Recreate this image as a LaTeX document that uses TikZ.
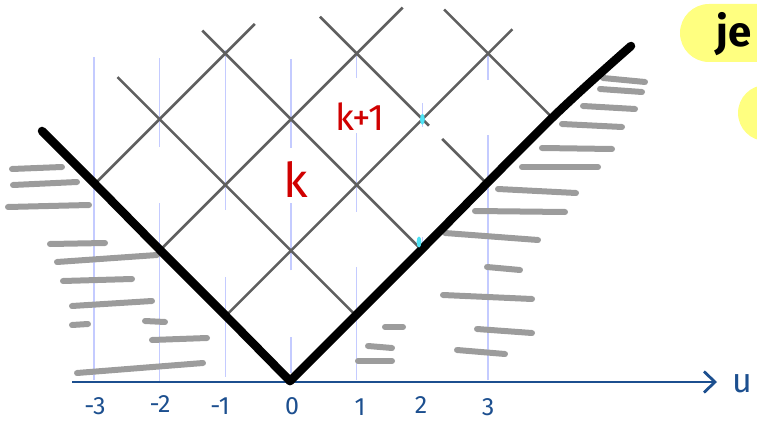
\documentclass[tikz,border=0pt]{standalone}
\usepackage{fontspec}
\setmainfont{Fira Sans}
\usetikzlibrary{arrows.meta}
\definecolor{gridgray}{HTML}{5F5F5F}
\definecolor{vblue}{HTML}{C4CBFF}
\definecolor{hatchgray}{HTML}{9C9C9C}
\definecolor{axisblue}{HTML}{1C4F8F}
\definecolor{kred}{HTML}{D00000}
\definecolor{hlyellow}{HTML}{FFFF80}
\definecolor{cyanmark}{HTML}{4FE3F5}
\begin{document}
\begin{tikzpicture}[x=1pt,y=-1pt,
  gridline/.style={draw=gridgray,line width=2.6pt},
  vline/.style={draw=vblue,line width=1.4pt},
  hatch/.style={draw=hatchgray,line width=6pt,line cap=round},
  boundary/.style={draw=black,line width=8.5pt,line cap=round,line join=round},
  axisline/.style={draw=axisblue,line width=2.8pt},
  ticklabel/.style={text=axisblue,font=\fontsize{25}{25}\selectfont,inner sep=0pt},
  celllabel/.style={text=kred,inner sep=0pt},
  blob/.style={fill=hlyellow}]
\useasboundingbox (0,0) rectangle (757,422);
% yellow highlight blobs (cut by the right edge)
\begin{scope}
  \clip (0,0) rectangle (757,422);
  \fill[blob,rounded corners=29pt] (680,4) rectangle (830,62);
  \fill[blob,rounded corners=28pt] (738,85) rectangle (830,141);
\end{scope}
\node[anchor=base west,inner sep=0pt,font=\fontsize{42}{42}\selectfont\bfseries] (je) at (716,47) {je};
% lattice in cone units
\begin{scope}[shift={(291pt,-382pt)},x=65.7pt,y=65.7pt]
  % vertical light blue lines
  \draw[vline] (-3,0.03) -- (-3,4.95);
  \draw[vline] (-2,3.58) -- (-2,4.93);
  \draw[vline] (-2,0) -- (-2,2.72);
  \draw[vline] (-1,2.62) -- (-1,5.05);
  \draw[vline] (-1,0.08) -- (-1,1.6);
  \draw[vline] (0,3.56) -- (0,4.92);
  \draw[vline] (0,1.7) -- (0,2.72);
  \draw[vline] (0,0.14) -- (0,0.68);
  \draw[vline] (1,4.63) -- (1,4.98);
  \draw[vline] (1,2.59) -- (1,3.79);
  \draw[vline] (1,0.03) -- (1,1.75);
  \draw[vline] (2,3.88) -- (2,4.25);
  \draw[vline] (2,2.0) -- (2,2.2);
  \draw[vline] (3,4.6) -- (3,4.98);
  \draw[vline] (3,0.03) -- (3,3.76);
  % grid lines y = x + c
  \draw[gridline] (-3,3) -- (-0.55,5.45);
  \draw[gridline] (-2,2) -- (1.7,5.7);
  \draw[gridline] (-1,1) -- (3.37,5.37);
  % grid lines y = -x + c
  \draw[gridline] (1,1) -- (-2.64,4.64);
  \draw[gridline] (2,2) -- (-1.35,5.35);
  \draw[gridline] (3,3) -- (2.3,3.7);
  \draw[gridline] (2.1,3.9) -- (0.44,5.56);
  \draw[gridline] (4,4) -- (2.33,5.67);
  % cyan mark
  \fill[cyanmark] (2,4.0) ellipse [x radius=2.4pt,y radius=5.5pt];
  % cell labels
  \node[celllabel,font=\fontsize{48}{48}\selectfont] (k) at (0.07,3.08) {k};
  \node[celllabel,font=\fontsize{37}{37}\selectfont] (k1) at (1.05,4.04) {k+1};
\end{scope}
% hatching, left
\draw[hatch] (12,169) -- (62,167);
\draw[hatch] (13,185) -- (77,182);
\draw[hatch] (8,207) -- (89,205);
\draw[hatch] (50,244) -- (105,243);
\draw[hatch] (57,262) -- (157,255);
\draw[hatch] (63,281) -- (132,279);
\draw[hatch] (72,306) -- (152,301);
\draw[hatch] (72,325) -- (88,324);
\draw[hatch] (145,321) -- (165,322);
\draw[hatch] (152,340) -- (207,338);
\draw[hatch] (77,373) -- (203,363);
% hatching, middle
\draw[hatch] (385,327) -- (403,327);
\draw[hatch] (368,346) -- (392,348);
\draw[hatch] (358,361) -- (392,361);
% hatching, right
\draw[hatch] (603,78) -- (645,82);
\draw[hatch] (600,89) -- (642,92);
\draw[hatch] (583,106) -- (635,109);
\draw[hatch] (562,124) -- (622,127);
\draw[hatch] (542,148) -- (612,149);
\draw[hatch] (522,167) -- (598,167);
\draw[hatch] (498,189) -- (576,193);
\draw[hatch] (475,211) -- (565,212);
\draw[hatch] (445,233) -- (538,240);
\draw[hatch] (487,267) -- (520,270);
\draw[hatch] (443,295) -- (532,299);
\draw[hatch] (477,329) -- (532,333);
\draw[hatch] (457,350) -- (505,354);
% axis
\coordinate (axL) at (72,382);
\coordinate (axR) at (717,382);
\draw[axisline,-{Straight Barb[length=11pt,width=21pt]}] (axL) -- (axR);
\node[anchor=base,text=axisblue,inner sep=0pt,font=\fontsize{34}{34}\selectfont] (u) at (742,392) {u};
% boundary of the light cone
\draw[boundary] (42,131) -- (95,184) -- (160,250) -- (226,316) -- (290,381);
\draw[boundary] plot[smooth,tension=0.5] coordinates {(290,381) (423,248) (553,117) (631,46)};
% cyan mark beside the boundary
\fill[cyanmark] (419,242) ellipse [x radius=2.4pt,y radius=5.5pt];
% tick labels
\node[ticklabel] (tm3) at (95,406) {-3};
\node[ticklabel] (tm2) at (160,404) {-2};
\node[ticklabel] (tm1) at (220,406) {-1};
\node[ticklabel] (t0) at (292,406) {0};
\node[ticklabel] (t1) at (360,407) {1};
\node[ticklabel] (t2) at (421,405) {2};
\node[ticklabel] (t3) at (488,407) {3};
\end{tikzpicture}
\end{document}
